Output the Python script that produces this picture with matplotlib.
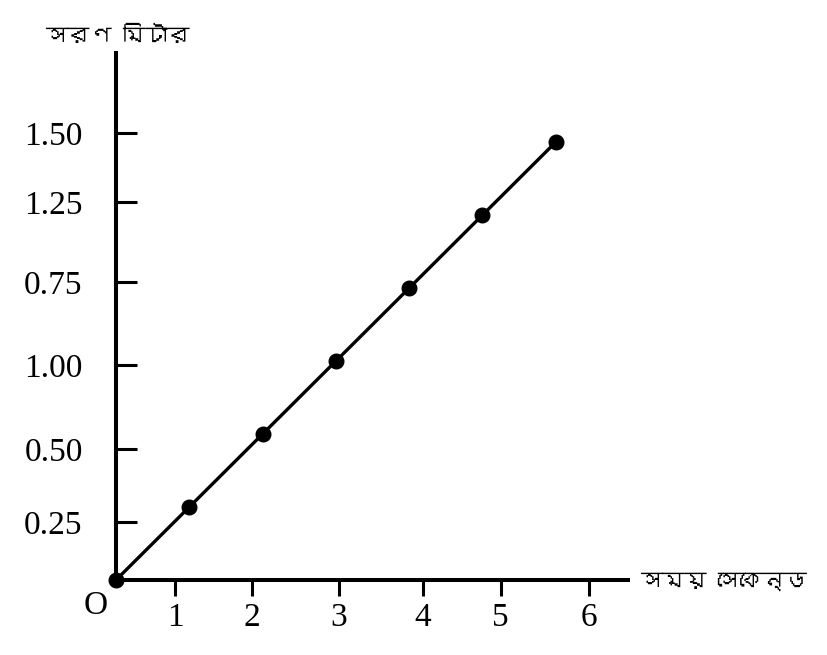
import matplotlib
matplotlib.use("Agg")
import matplotlib.pyplot as plt
from matplotlib import font_manager
from matplotlib.ft2font import FT2Font

# data: time (s) vs displacement (m)
times = [0, 1, 2, 3, 4, 5, 6]
displacement = [0, 0.25, 0.50, 0.75, 1.00, 1.25, 1.50]

# tick marks as drawn in the original (labels are not evenly placed)
x_tick_pos = [0.805, 1.855, 3.042, 4.184, 5.248, 6.453]
x_tick_labels = ["1", "2", "3", "4", "5", "6"]
y_tick_pos = [0.199, 0.449, 0.736, 1.021, 1.295, 1.531]
y_tick_labels = ["0.25", "0.50", "1.00", "0.75", "1.25", "1.50"]

x_label = "সময় সেকেন্ড"
y_label = "সরণ মিটার"

# look for an installed font that has bengali letters
bn_font = None
for f in font_manager.fontManager.ttflist:
    try:
        cmap = FT2Font(f.fname).get_charmap()
    except Exception:
        continue
    if 0x09B8 in cmap and 0x09AE in cmap:
        bn_font = f.name
        break
bn_family = [bn_font, "DejaVu Sans"] if bn_font else ["DejaVu Sans"]

serif = "Liberation Serif"

fig = plt.figure(figsize=(8.27, 6.55), dpi=100)
ax = fig.add_axes([116 / 827, 75 / 655, 512 / 827, 527 / 655])

ax.plot(times, displacement, color="black", lw=2.4, marker="o",
        markersize=10.5, clip_on=False, zorder=3)

ax.set_xlim(0, 6.985)
ax.set_ylim(0, 1.805)

for s in ["top", "right"]:
    ax.spines[s].set_visible(False)
for s in ["left", "bottom"]:
    ax.spines[s].set_linewidth(2.9)

ax.set_xticks(x_tick_pos)
ax.set_xticklabels(x_tick_labels, fontfamily=serif, fontsize=24)
ax.set_yticks(y_tick_pos)
ax.set_yticklabels(y_tick_labels, fontfamily=serif, fontsize=24)
ax.tick_params(axis="x", direction="out", length=11.5, width=2.2, pad=5)
ax.tick_params(axis="y", direction="in", length=15, width=2.2, pad=24)

fig.text(96 / 827, 1 - 606 / 655, "O", fontfamily=serif, fontsize=24,
         ha="center", va="center")
fig.text(640 / 827, 1 - 582 / 655, x_label, family=bn_family, fontsize=16,
         ha="left", va="center")
fig.text(45 / 827, 1 - 36 / 655, y_label, family=bn_family, fontsize=16,
         ha="left", va="center")

fig.savefig("out.png", dpi=100)
